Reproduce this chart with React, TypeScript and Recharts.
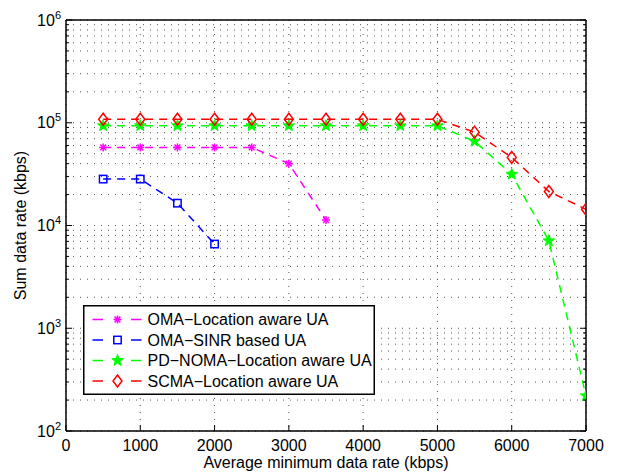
import React from 'react';
import { LineChart, Line, XAxis, YAxis, CartesianGrid, Legend } from 'recharts';

const FONT = '"Liberation Sans", Arial, Helvetica, sans-serif';

// ---- data ----
const omaLocationRates = [500, 1000, 1500, 2000, 2500, 3000, 3500];
const omaLocationSum = [57500, 57500, 57500, 57500, 57500, 40000, 11300];

const omaSinrRates = [500, 1000, 1500, 2000];
const omaSinrSum = [28300, 28300, 16500, 6600];

const pdNomaRates = [500, 1000, 1500, 2000, 2500, 3000, 3500, 4000, 4500, 5000, 5500, 6000, 6500, 7000];
const pdNomaSum = [93500, 93500, 93500, 93500, 93500, 93500, 93500, 93500, 93500, 93500, 66000, 31500, 7100, 220];

const scmaRates = [500, 1000, 1500, 2000, 2500, 3000, 3500, 4000, 4500, 5000, 5500, 6000, 6500, 7000];
const scmaSum = [108000, 108000, 108000, 108000, 108000, 108000, 108000, 108000, 108000, 108000, 81000, 46000, 21400, 14400];

const xTicks = [0, 1000, 2000, 3000, 4000, 5000, 6000, 7000];
const yMajorTicks = [100, 1000, 10000, 100000, 1000000];
const yTicks = [
  100, 200, 300, 400, 500, 600, 700, 800, 900,
  1000, 2000, 3000, 4000, 5000, 6000, 7000, 8000, 9000,
  10000, 20000, 30000, 40000, 50000, 60000, 70000, 80000, 90000,
  100000, 200000, 300000, 400000, 500000, 600000, 700000, 800000, 900000,
  1000000,
];

const seriesNames = ['OMA\u2212Location aware UA', 'OMA\u2212SINR based UA', 'PD\u2212NOMA\u2212Location aware UA', 'SCMA\u2212Location aware UA'];
const seriesColors = ['#ff00ff', '#0000ff', '#00ff00', '#ff0000'];
const seriesMarkers = ['asterisk', 'square', 'star', 'diamond'];

const toPoints = (xs: number[], ys: number[]) => xs.map((x, i) => ({ x, y: ys[i] }));

const series = [
  { name: seriesNames[0], color: seriesColors[0], marker: seriesMarkers[0], data: toPoints(omaLocationRates, omaLocationSum) },
  { name: seriesNames[1], color: seriesColors[1], marker: seriesMarkers[1], data: toPoints(omaSinrRates, omaSinrSum) },
  { name: seriesNames[2], color: seriesColors[2], marker: seriesMarkers[2], data: toPoints(pdNomaRates, pdNomaSum) },
  { name: seriesNames[3], color: seriesColors[3], marker: seriesMarkers[3], data: toPoints(scmaRates, scmaSum) },
];

// ---- markers ----
function Marker({ kind, cx, cy, color }: { kind: string; cx: number; cy: number; color: string }) {
  if (kind === 'asterisk') {
    const r = 4;
    const d = r * 0.72;
    return (
      <g stroke={color} strokeWidth={1.5}>
        <line x1={cx - r} y1={cy} x2={cx + r} y2={cy} />
        <line x1={cx} y1={cy - r} x2={cx} y2={cy + r} />
        <line x1={cx - d} y1={cy - d} x2={cx + d} y2={cy + d} />
        <line x1={cx - d} y1={cy + d} x2={cx + d} y2={cy - d} />
      </g>
    );
  }
  if (kind === 'square') {
    const h = 3.7;
    return <rect x={cx - h} y={cy - h} width={2 * h} height={2 * h} fill="none" stroke={color} strokeWidth={1.5} />;
  }
  if (kind === 'star') {
    const ro = 6;
    const ri = 2.5;
    const pts: string[] = [];
    for (let k = 0; k < 10; k++) {
      const r = k % 2 === 0 ? ro : ri;
      const a = -Math.PI / 2 + (k * Math.PI) / 5;
      pts.push(`${cx + r * Math.cos(a)},${cy + r * Math.sin(a)}`);
    }
    return <polygon points={pts.join(' ')} fill={color} stroke={color} strokeWidth={1} strokeLinejoin="miter" />;
  }
  // diamond
  const w = 4.5;
  const h = 6;
  return (
    <polygon
      points={`${cx},${cy - h} ${cx + w},${cy} ${cx},${cy + h} ${cx - w},${cy}`}
      fill="none"
      stroke={color}
      strokeWidth={1.5}
    />
  );
}

// ---- axis ticks ----
const isMajor = (v: number) => yMajorTicks.indexOf(v) >= 0;

function LeftYTick(props: any) {
  const { x, y, payload } = props;
  const v = payload.value;
  const major = isMajor(v);
  const exp = Math.round(Math.log10(v));
  return (
    <g>
      <line x1={x} x2={x + (major ? 6 : 3)} y1={y} y2={y} stroke="#000" strokeWidth={1} />
      {major && (
        <text x={x - 5} y={y + 5.7} textAnchor="end" fontFamily={FONT} fontSize={16} fill="#000">
          10
          <tspan dy={-7} fontSize={11}>{exp}</tspan>
        </text>
      )}
    </g>
  );
}

function RightYTick(props: any) {
  const { x, y, payload } = props;
  const major = isMajor(payload.value);
  return <line x1={x} x2={x - (major ? 6 : 3)} y1={y} y2={y} stroke="#000" strokeWidth={1} />;
}

function BottomXTick(props: any) {
  const { x, y, payload } = props;
  return (
    <g>
      <line x1={x} x2={x} y1={y} y2={y - 6} stroke="#000" strokeWidth={1} />
      <text x={x} y={y + 20} textAnchor="middle" fontFamily={FONT} fontSize={16} fill="#000">
        {payload.value}
      </text>
    </g>
  );
}

function TopXTick(props: any) {
  const { x, y } = props;
  return <line x1={x} x2={x} y1={y} y2={y + 6} stroke="#000" strokeWidth={1} />;
}

function XTitle(props: any) {
  const vb = props.viewBox || {};
  return (
    <text x={vb.x + vb.width / 2} y={vb.y + 37} textAnchor="middle" fontFamily={FONT} fontSize={16} fill="#000">
      Average minimum data rate (kbps)
    </text>
  );
}

function YTitle(props: any) {
  const vb = props.viewBox || {};
  const cx = 26;
  const cy = vb.y + vb.height / 2;
  return (
    <text x={cx} y={cy} transform={`rotate(-90 ${cx} ${cy})`} textAnchor="middle" fontFamily={FONT} fontSize={16} fill="#000">
      Sum data rate (kbps)
    </text>
  );
}

// ---- legend ----
function LegendBox() {
  const rowY = [14.5, 35, 55.5, 76];
  return (
    <svg width={292} height={90} style={{ display: 'block' }}>
      <rect x={0.75} y={0.75} width={290.5} height={88.5} fill="#fff" stroke="#000" strokeWidth={1.5} />
      {series.map((s, i) => (
        <g key={s.name}>
          <line x1={9.5} x2={20} y1={rowY[i]} y2={rowY[i]} stroke={s.color} strokeWidth={1.5} />
          <line x1={48} x2={58.5} y1={rowY[i]} y2={rowY[i]} stroke={s.color} strokeWidth={1.5} />
          <Marker kind={s.marker} cx={34.5} cy={rowY[i]} color={s.color} />
          <text x={64.5} y={rowY[i] + 5.7} fontFamily={FONT} fontSize={16} fill="#000">
            {s.name}
          </text>
        </g>
      ))}
    </svg>
  );
}

export default function App() {
  return (
    <div style={{ position: 'absolute', left: 0, top: 0, width: 618, height: 476, background: '#fff' }}>
      <LineChart width={618} height={476} margin={{ top: 0, right: 0, bottom: 0, left: 0 }}>
        <CartesianGrid stroke="#555" strokeDasharray="1 6" strokeWidth={1} />
        <XAxis
          dataKey="x"
          type="number"
          domain={[0, 7000]}
          ticks={xTicks}
          interval={0}
          height={45}
          tickSize={0}
          tickMargin={0}
          tickLine={false}
          axisLine={{ stroke: '#000', strokeWidth: 1.5 }}
          tick={<BottomXTick />}
          label={<XTitle />}
          allowDataOverflow
        />
        <XAxis
          xAxisId="top"
          orientation="top"
          type="number"
          domain={[0, 7000]}
          ticks={xTicks}
          interval={0}
          height={20}
          tickSize={0}
          tickMargin={0}
          tickLine={false}
          axisLine={{ stroke: '#000', strokeWidth: 1.5 }}
          tick={<TopXTick />}
          allowDataOverflow
        />
        <YAxis
          type="number"
          scale="log"
          domain={[100, 1000000]}
          ticks={yTicks}
          interval={0}
          width={66}
          tickSize={0}
          tickMargin={0}
          tickLine={false}
          axisLine={{ stroke: '#000', strokeWidth: 1.5 }}
          tick={<LeftYTick />}
          label={<YTitle />}
          allowDataOverflow
        />
        <YAxis
          yAxisId="right"
          orientation="right"
          type="number"
          scale="log"
          domain={[100, 1000000]}
          ticks={yTicks}
          interval={0}
          width={32}
          tickSize={0}
          tickMargin={0}
          tickLine={false}
          axisLine={{ stroke: '#000', strokeWidth: 1.5 }}
          tick={<RightYTick />}
          allowDataOverflow
        />
        {series.map((s) => (
          <Line
            key={s.name}
            data={s.data}
            dataKey="y"
            name={s.name}
            type="linear"
            stroke={s.color}
            strokeWidth={1.5}
            strokeDasharray="8 6"
            isAnimationActive={false}
            activeDot={false}
            dot={(p: any) => <Marker key={`${s.name}-${p.index}`} kind={s.marker} cx={p.cx} cy={p.cy} color={s.color} />}
          />
        ))}
        <Legend
          layout="vertical"
          align="center"
          verticalAlign="middle"
          wrapperStyle={{ left: 83, top: 305, width: 292, height: 90 }}
          content={() => <LegendBox />}
        />
      </LineChart>
    </div>
  );
}
